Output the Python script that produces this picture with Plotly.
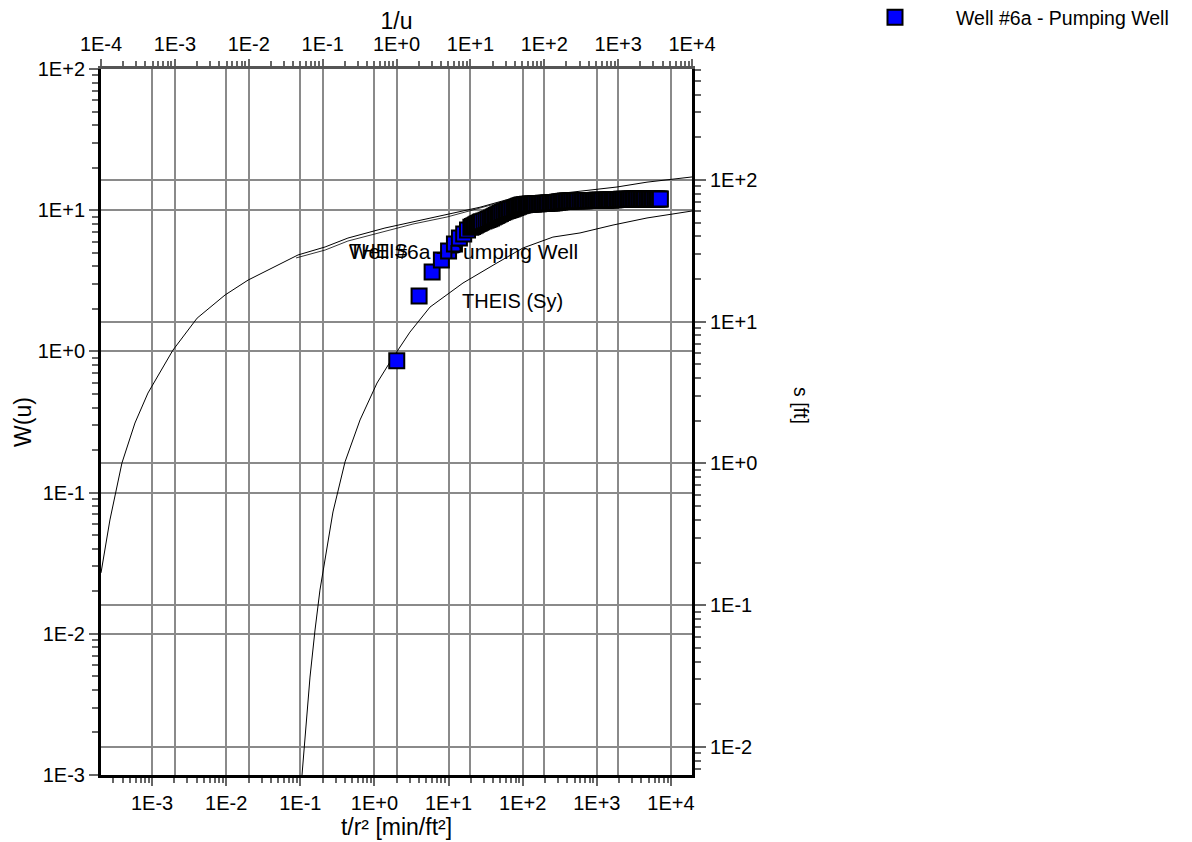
import plotly.graph_objects as go

# ---- Type curves (top axis 1/u, left axis W(u)) ----
theis_inv_u = [1.0e-4, 1.32e-4, 1.92e-4, 2.88e-4, 4.32e-4, 9.4e-4, 2.0e-3, 4.78e-3, 9.8e-3,
               0.0465, 0.108, 0.220, 0.698, 1.67, 4.83, 13.5, 37.8, 179, 966, 2460, 1.0e4]
theis_w = [0.027, 0.064, 0.162, 0.311, 0.507, 1.02, 1.72, 2.51, 3.20,
           4.82, 5.49, 6.35, 7.48, 8.25, 9.25, 10.5, 12.2, 13.2, 14.6, 15.8, 17.2]

theis_sy_inv_u = [0.0526, 0.0675, 0.0789, 0.092, 0.138, 0.201, 0.321, 0.545, 0.817, 1.52,
                  2.84, 7.94, 22.9, 51.5, 131, 305, 853, 2460, 1.0e4]
theis_sy_w = [0.001, 0.00494, 0.01064, 0.0204, 0.0729, 0.165, 0.327, 0.597, 0.841, 1.37,
              2.06, 3.05, 4.23, 5.40, 6.45, 6.90, 7.85, 8.81, 9.87]

# short curve hugging the THEIS curve over the data range (seen as a doubled line)
well_fit_inv_u = [0.0437, 0.108, 0.220, 0.698, 1.67, 4.83, 13.5, 37.8, 64.1]
well_fit_w = [4.59, 5.22, 6.05, 7.12, 7.98, 8.95, 10.4, 12.0, 12.6]

# ---- Well #6a - Pumping Well (bottom axis t/r^2, right axis s [ft]) ----
well_t_r2 = [2, 4, 6, 8, 10, 12, 14, 16, 18, 20, 21, 22, 23, 24, 25, 26, 27, 28, 30, 32, 34, 36,
             38, 40, 42, 44, 46, 48, 50, 53, 56, 59, 62, 65, 68, 72, 76, 80, 84, 88, 92, 96, 100,
             105, 110, 116, 122, 128, 134, 140, 148, 156, 164, 172, 180, 190, 200, 210, 220, 232,
             244, 256, 268, 280, 296, 312, 328, 344, 360, 380, 400, 420, 440, 464, 488, 512, 536,
             560, 592, 624, 656, 688, 720, 760, 800, 840, 880, 928, 976, 1024, 1072, 1120, 1184,
             1248, 1312, 1376, 1440, 1520, 1600, 1680, 1760, 1856, 1952, 2048, 2144, 2240, 2368,
             2496, 2624, 2752, 2880, 3040, 3200, 3360, 3520, 3712, 3904, 4096, 4288, 4480, 4736,
             4992, 5248, 5504, 5760, 6080, 6400, 6720, 7040, 7200]
well_s = [5.3, 15.2, 22.4, 27.3, 31.6, 35.3, 39.0, 41.6, 44.4, 46.4, 47.0, 47.6, 48.2, 48.8, 49.3,
          49.8, 50.3, 50.7, 51.4, 52.0, 52.6, 53.3, 54.0, 54.7, 55.4, 56.1, 56.8, 57.5, 58.1, 59.0,
          59.8, 60.5, 61.0, 61.5, 62.0, 62.5, 63.2, 63.9, 64.6, 65.2, 65.8, 66.3, 66.7, 67.0, 67.2,
          67.4, 67.5, 67.6, 67.7, 67.8, 67.9, 68.0, 68.1, 68.2, 68.3, 68.4, 68.5, 68.6, 68.7, 68.8,
          68.9, 69.0, 69.2, 69.4, 69.6, 69.9, 70.2, 70.5, 70.8, 71.0, 71.1, 71.2, 71.2, 71.3, 71.3,
          71.3, 71.4, 71.4, 71.4, 71.5, 71.5, 71.5, 71.6, 71.6, 71.6, 71.7, 71.7, 71.7, 71.8, 71.8,
          71.8, 71.9, 71.9, 72.0, 72.0, 72.1, 72.2, 72.3, 72.4, 72.5, 72.6, 72.7, 72.8, 72.9, 73.0,
          73.0, 73.1, 73.1, 73.2, 73.2, 73.3, 73.3, 73.3, 73.4, 73.4, 73.4, 73.4, 73.5, 73.5, 73.5,
          73.5, 73.5, 73.5, 73.5, 73.5, 73.5, 73.5, 73.5, 73.5, 73.5]

# ---- Tick labels ----
bottom_vals = [1e-3, 1e-2, 1e-1, 1e0, 1e1, 1e2, 1e3, 1e4]
bottom_text = ["1E-3", "1E-2", "1E-1", "1E+0", "1E+1", "1E+2", "1E+3", "1E+4"]
top_vals = [1e-4, 1e-3, 1e-2, 1e-1, 1e0, 1e1, 1e2, 1e3, 1e4]
top_text = ["1E-4", "1E-3", "1E-2", "1E-1", "1E+0", "1E+1", "1E+2", "1E+3", "1E+4"]
left_vals = [1e-3, 1e-2, 1e-1, 1e0, 1e1, 1e2]
left_text = ["1E-3", "1E-2", "1E-1", "1E+0", "1E+1", "1E+2"]
right_vals = [1e-2, 1e-1, 1e0, 1e1, 1e2]
right_text = ["1E-2", "1E-1", "1E+0", "1E+1", "1E+2"]

FONT = "Liberation Sans, Arial, sans-serif"
GRID = "#8a8a8a"
# figure is shown with the page's 8 px body margin; positions below are figure pixels
W_FIG, H_FIG = 1184, 834
L, R, T, B = 93, 684, 61, 767
PW, PH = R - L, B - T


def px(xf):
    return (xf - L) / PW


def py(yf):
    return (B - yf) / PH


fig = go.Figure()
fig.add_trace(go.Scatter(x=theis_inv_u, y=theis_w, xaxis="x", yaxis="y", mode="lines",
                         line=dict(color="black", width=1), showlegend=False, name="THEIS"))
fig.add_trace(go.Scatter(x=well_fit_inv_u, y=well_fit_w, xaxis="x", yaxis="y", mode="lines",
                         line=dict(color="black", width=0.8), showlegend=False,
                         name="Well #6a fit"))
fig.add_trace(go.Scatter(x=theis_sy_inv_u, y=theis_sy_w, xaxis="x", yaxis="y", mode="lines",
                         line=dict(color="black", width=1), showlegend=False, name="THEIS (Sy)"))
fig.add_trace(go.Scatter(x=well_t_r2, y=well_s, xaxis="x2", yaxis="y2", mode="markers",
                         marker=dict(symbol="square", size=15, color="#0000ff",
                                     line=dict(color="black", width=2)),
                         name="Well #6a - Pumping Well", showlegend=True))

minor_common = dict(dtick="D1", ticks="outside", ticklen=5, tickwidth=1.5, tickcolor="#666",
                    showgrid=False)
axis_common = dict(type="log", tickmode="array", ticks="outside", tickwidth=1.5,
                   tickcolor="#666", showgrid=True, gridcolor=GRID, gridwidth=2,
                   showline=True, zeroline=False, automargin=False,
                   tickfont=dict(family=FONT, size=20, color="black"))

fig.update_layout(
    width=W_FIG, height=H_FIG,
    margin=dict(l=L, r=W_FIG - R, t=T, b=H_FIG - B, autoexpand=False),
    paper_bgcolor="white", plot_bgcolor="white",
    font=dict(family=FONT, size=19.5, color="black"),
    # top axis: 1/u
    xaxis=dict(axis_common, range=[-4, 4], side="top",
               tickvals=top_vals, ticktext=top_text, ticklen=7,
               linecolor="#555", linewidth=3, minor=minor_common,
               title=dict(text="1/u", standoff=2)),
    # left axis: W(u)
    yaxis=dict(axis_common, range=[-3, 2], side="left",
               tickvals=left_vals, ticktext=left_text, ticklen=9,
               linecolor="black", linewidth=3, minor=dict(minor_common, ticklen=6),
               title=dict(text="W(u)", standoff=0)),
    # bottom axis: t/r^2
    xaxis2=dict(axis_common, range=[-3.689, 4.284], side="bottom", overlaying="x",
                tickvals=bottom_vals, ticktext=bottom_text, ticklen=8,
                linecolor="black", linewidth=3, minor=minor_common,
                title=dict(text="t/r² [min/ft²]", standoff=4)),
    # right axis: s [ft]
    yaxis2=dict(axis_common, range=[-2.198, 2.783], side="right", overlaying="y",
                tickvals=right_vals, ticktext=right_text, ticklen=11,
                linecolor="black", linewidth=3, minor=dict(minor_common, ticklen=6)),
    legend=dict(x=px(826), y=py(-10), xanchor="left", yanchor="top",
                bgcolor="rgba(0,0,0,0)", borderwidth=0, itemwidth=112,
                font=dict(family=FONT, size=19.5)),
    annotations=[
        dict(text="s [ft]", textangle=90, x=px(806), xref="paper", y=py(397), yref="paper",
             showarrow=False),
        dict(text="THEIS", x=px(339), y=py(243), xref="paper", yref="paper",
             xanchor="left", yanchor="middle", showarrow=False, font=dict(size=20)),
        dict(text="Well #6a - Pumping Well", x=px(339), y=py(243),
             xref="paper", yref="paper", xanchor="left", yanchor="middle", showarrow=False,
             font=dict(size=21)),
        dict(text="THEIS (Sy)", x=px(452), y=py(293), xref="paper",
             yref="paper", xanchor="left", yanchor="middle", showarrow=False,
             font=dict(size=20)),
    ],
)

fig.write_html("out.html")
